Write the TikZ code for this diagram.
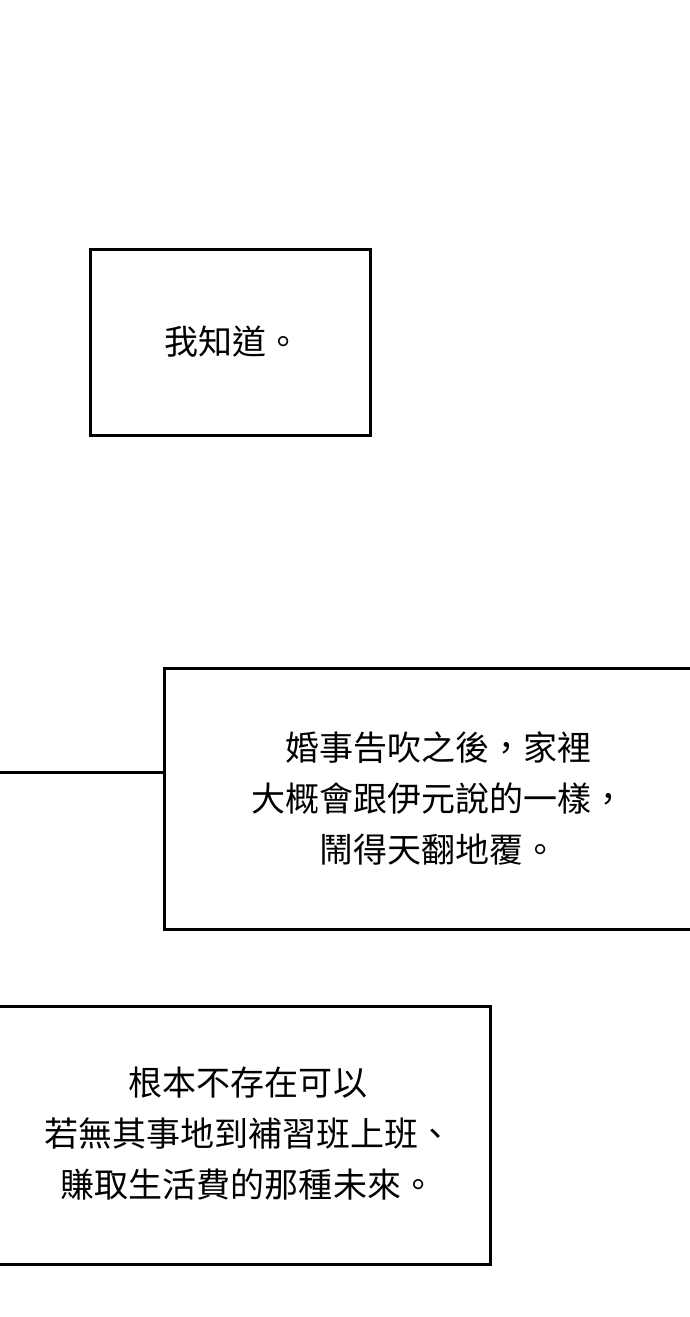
\documentclass[tikz,border=0pt]{standalone}
\usepackage{fontspec}
\newfontfamily\cjk{Noto Sans CJK TC}
\begin{document}
\begin{tikzpicture}[x=1pt,y=-1pt,
  box/.style={draw=black,line width=3pt,fill=white},
  txt/.style={font=\cjk\fontsize{34}{51}\selectfont,align=center}]
\useasboundingbox (0,0) rectangle (690,1317);
\fill[white] (0,0) rectangle (690,1317);
\draw[box] (90,249) rectangle (370,435);
\node[txt] (t1) at (232,342) {我知道。};
\coordinate (l0) at (-5,772);
\draw[box] (164,668) rectangle (700,929);
\coordinate (l1) at (164,772);
\draw[line width=3pt] (l0) -- (l1);
\node[txt] (t2) at (438,798) {婚事告吹之後，家裡\\大概會跟伊元說的一樣，\\鬧得天翻地覆。};
\draw[box] (-5,1006) rectangle (490,1264);
\node[txt] (t3) at (248,1134) {根本不存在可以\\若無其事地到補習班上班、\\賺取生活費的那種未來。};
\end{tikzpicture}
\end{document}
